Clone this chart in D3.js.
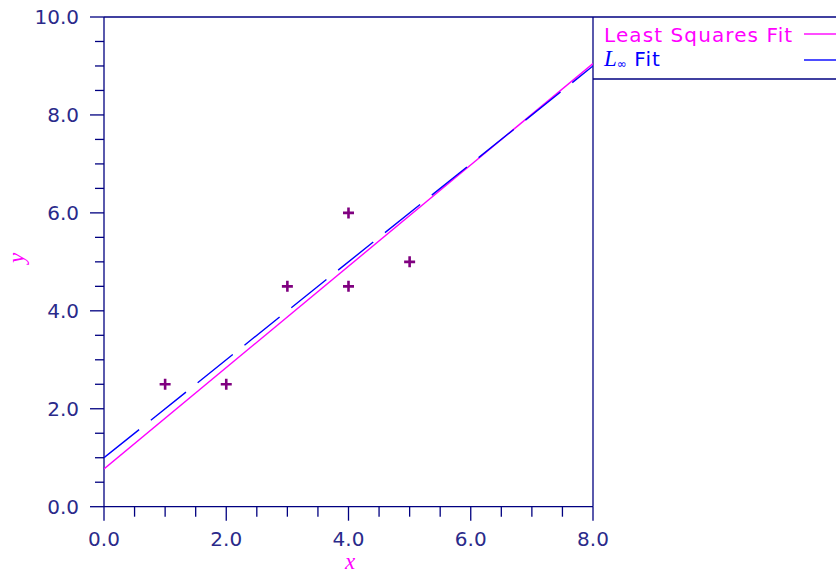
<!DOCTYPE html>
<html><head><meta charset="utf-8">
<script src="https://cdn.jsdelivr.net/npm/d3@7/dist/d3.min.js"></script>
<style>body{margin:0;background:#fff}svg{display:block}</style>
</head><body>
<svg id="c" width="836" height="575"></svg>
<script>
const pointsX = [1, 2, 3, 4, 4, 5];
const pointsY = [2.5, 2.5, 4.5, 6, 4.5, 5];
const lsFit = {intercept: 0.77, slope: 1.035};
const linfFit = {intercept: 1.0, slope: 1.0};
const xMajorTicks = [0, 2, 4, 6, 8];
const yMajorTicks = [0, 2, 4, 6, 8, 10];
const legendLabels = ["Least Squares Fit", "Fit"];

const svg = d3.select("#c");
const L = 104, R = 593, T = 17, B = 506.7;
const x = d3.scaleLinear().domain([0, 8]).range([L, R]);
const y = d3.scaleLinear().domain([0, 10]).range([B, T]);
const axisCol = "#000080", labCol = "#2a2a8a";
const font = "DejaVu Sans, sans-serif";

const defs = svg.append("defs");
defs.append("clipPath").attr("id", "clip").append("rect")
  .attr("x", L).attr("y", T).attr("width", R - L).attr("height", B - T);

// axes lines
const g = svg.append("g");
g.append("line").attr("x1", L).attr("x2", 836).attr("y1", T).attr("y2", T).attr("stroke", axisCol).attr("stroke-width", 1.3);
g.append("line").attr("x1", L).attr("x2", R).attr("y1", B).attr("y2", B).attr("stroke", axisCol).attr("stroke-width", 1.3);
g.append("line").attr("x1", L).attr("x2", L).attr("y1", T).attr("y2", B).attr("stroke", axisCol).attr("stroke-width", 1.3);
g.append("line").attr("x1", R).attr("x2", R).attr("y1", T).attr("y2", B).attr("stroke", axisCol).attr("stroke-width", 1.3);
g.append("line").attr("x1", R).attr("x2", 836).attr("y1", 79).attr("y2", 79).attr("stroke", axisCol).attr("stroke-width", 1.3);

// x axis ticks
const xMinor = d3.range(0, 8.001, 0.5);
g.selectAll(".xt").data(xMinor).enter().append("line")
  .attr("x1", d => x(d)).attr("x2", d => x(d))
  .attr("y1", B).attr("y2", d => (Math.abs(d % 2) < 1e-9 ? B + 14 : B + 10))
  .attr("stroke", axisCol).attr("stroke-width", 1.3);
g.selectAll(".xl").data(xMajorTicks).enter().append("text")
  .attr("x", d => x(d)).attr("y", 546).attr("text-anchor", "middle")
  .attr("font-family", font).attr("font-size", 20).attr("fill", labCol)
  .text(d => d.toFixed(1));

// y axis ticks
const yMinor = d3.range(0, 10.001, 0.5);
g.selectAll(".yt").data(yMinor).enter().append("line")
  .attr("y1", d => y(d)).attr("y2", d => y(d))
  .attr("x1", L).attr("x2", d => (Math.abs(d % 2) < 1e-9 ? L - 14 : L - 9))
  .attr("stroke", axisCol).attr("stroke-width", 1.3);
g.selectAll(".yl").data(yMajorTicks).enter().append("text")
  .attr("x", 79).attr("y", d => y(d) + 7).attr("text-anchor", "end")
  .attr("font-family", font).attr("font-size", 20).attr("fill", labCol)
  .text(d => d.toFixed(1));

// axis labels
svg.append("text").attr("x", 350).attr("y", 569).attr("text-anchor", "middle")
  .attr("font-family", "Liberation Serif, serif").attr("font-style", "italic")
  .attr("font-size", 23).attr("fill", "#ff00ff").text("x");
svg.append("text").attr("transform", "translate(24,258) rotate(-90)").attr("text-anchor", "middle")
  .attr("font-family", "Liberation Serif, serif").attr("font-style", "italic")
  .attr("font-size", 23).attr("fill", "#ff00ff").text("y");

// fit lines
const plot = svg.append("g").attr("clip-path", "url(#clip)");
const line = d3.line().x(d => x(d[0])).y(d => y(d[1]));
const fitPts = f => [0, 8].map(v => [v, f.intercept + f.slope * v]);
plot.append("path").attr("d", line(fitPts(lsFit))).attr("fill", "none")
  .attr("stroke", "#ff00ff").attr("stroke-width", 1.4);
plot.append("path").attr("d", line(fitPts(linfFit))).attr("fill", "none")
  .attr("stroke", "#0000ff").attr("stroke-width", 1.4).attr("stroke-dasharray", "45,15");

// points
const pts = pointsX.map((v, i) => [v, pointsY[i]]);
svg.selectAll(".pt").data(pts).enter().append("path")
  .attr("d", d => { const cx = x(d[0]), cy = y(d[1]), s = 5.5;
    return `M${cx - s},${cy}L${cx + s},${cy}M${cx},${cy - s}L${cx},${cy + s}`; })
  .attr("stroke", "#800080").attr("stroke-width", 2.6);

// legend
svg.append("text").attr("x", 604).attr("y", 42).attr("font-family", font)
  .attr("font-size", 20).attr("letter-spacing", 1.1).attr("fill", "#ff00ff").text(legendLabels[0]);
svg.append("line").attr("x1", 804).attr("x2", 836).attr("y1", 34).attr("y2", 34)
  .attr("stroke", "#ff00ff").attr("stroke-width", 1.4);
const t2 = svg.append("text").attr("x", 604).attr("y", 66).attr("fill", "#0000ff");
t2.append("tspan").attr("font-family", "Liberation Serif, serif").attr("font-style", "italic")
  .attr("font-size", 23).text("L");
t2.append("tspan").attr("font-family", "DejaVu Sans, sans-serif").attr("font-size", 12)
  .attr("dy", 2).text("∞");
t2.append("tspan").attr("font-family", font).attr("font-size", 20).attr("letter-spacing", 1.1)
  .attr("dy", -2).text(" " + legendLabels[1]);
svg.append("line").attr("x1", 804).attr("x2", 836).attr("y1", 60).attr("y2", 60)
  .attr("stroke", "#0000ff").attr("stroke-width", 1.4);
</script>
</body></html>
